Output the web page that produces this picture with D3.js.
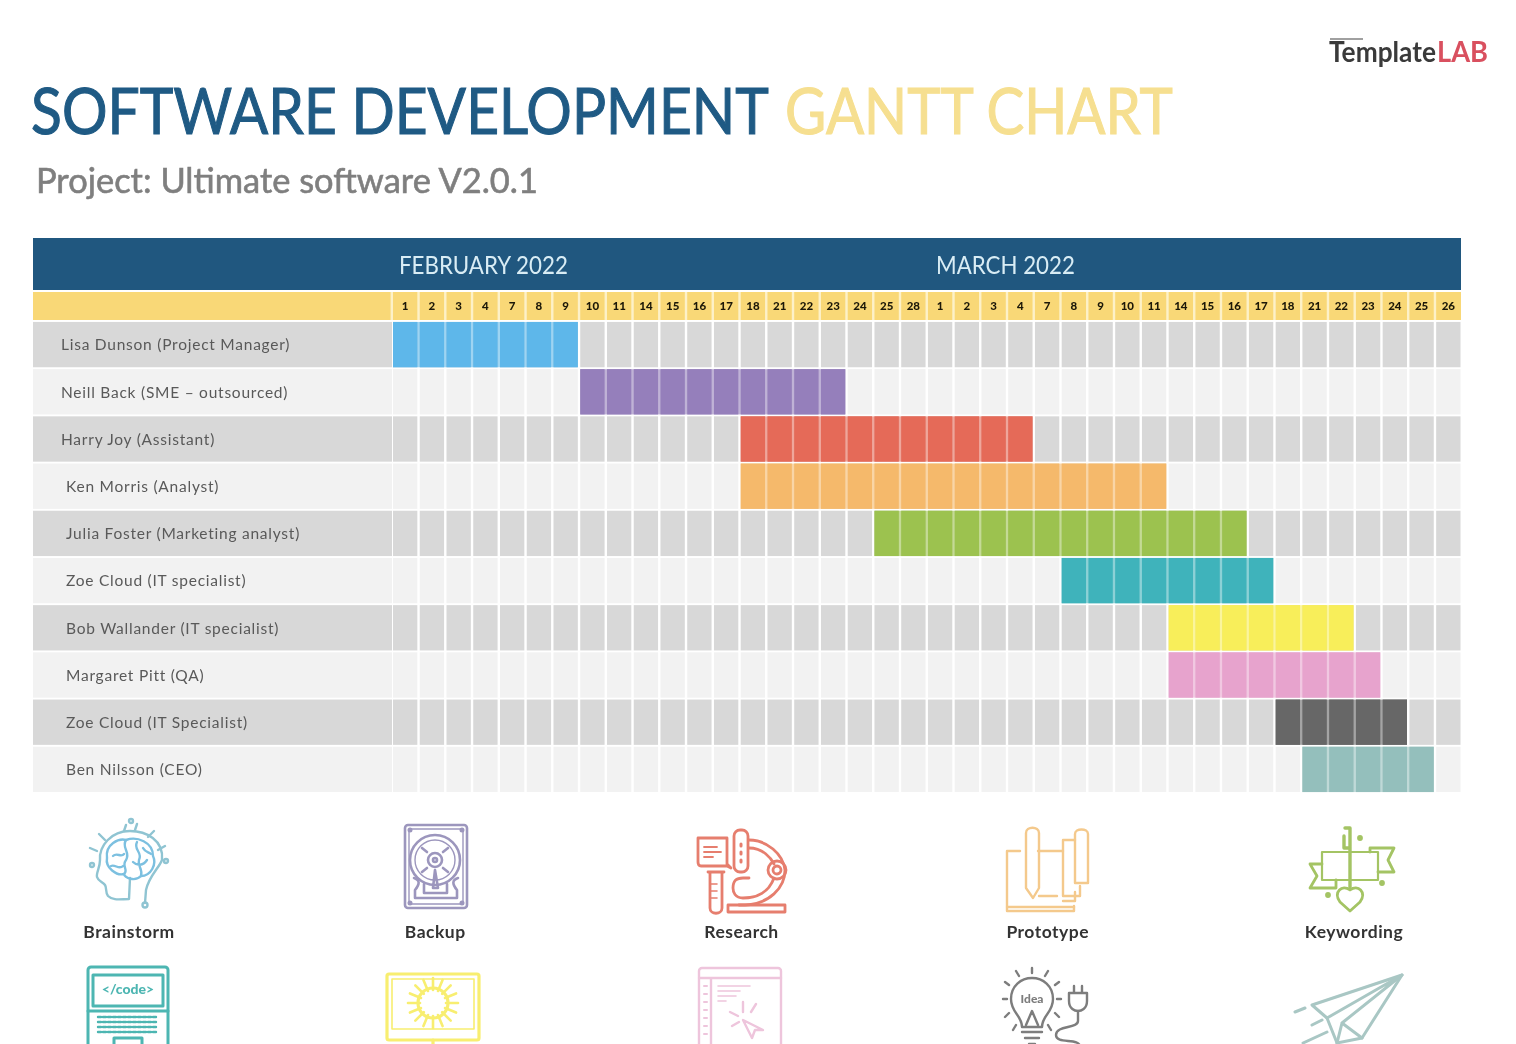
<!DOCTYPE html>
<html>
<head>
<meta charset="utf-8">
<title>Software Development Gantt Chart</title>
<script src="https://cdnjs.cloudflare.com/ajax/libs/d3/7.8.5/d3.min.js"></script>
<style>
    html, body { margin: 0; padding: 0; background: #fff; overflow: hidden; }
    svg { display: block; filter: blur(0.55px); }
    text { font-family: Lato, "Open Sans", sans-serif; }
    .domain { display: none; }
    .icon path, .icon line, .icon rect, .icon circle, .icon ellipse { fill: none; stroke-linecap: round; stroke-linejoin: round; }
</style>
</head>
<body>
<svg id="chart"></svg>
<script>
// Data
// --------------------------------------------------------
    const febDays = ['1','2','3','4','7','8','9','10','11','14','15','16','17','18','21','22','23','24','25','28'];
    const marDays = ['1','2','3','4','7','8','9','10','11','14','15','16','17','18','21','22','23','24','25','26'];
    const months = ['FEBRUARY 2022', 'MARCH 2022'];

    const people = [
        'Lisa Dunson (Project Manager)',
        'Neill Back (SME – outsourced)',
        'Harry Joy (Assistant)',
        'Ken Morris (Analyst)',
        'Julia Foster (Marketing analyst)',
        'Zoe Cloud (IT specialist)',
        'Bob Wallander (IT specialist)',
        'Margaret Pitt (QA)',
        'Zoe Cloud (IT Specialist)',
        'Ben Nilsson (CEO)'
    ];
    // first and last working day column of each person, counted from 1 Feb
    const startColumn = [0, 7, 13, 13, 18, 25, 29, 29, 33, 34];
    const endColumn = [6, 16, 23, 28, 31, 32, 35, 36, 37, 38];

    const topLegend = ['Brainstorm', 'Backup', 'Research', 'Prototype', 'Keywording'];

    const barColors = ['#5eb7ea', '#957fbb', '#e56a58', '#f5b96b', '#9cc24f', '#3fb3bb', '#f8ee5a', '#e7a3cd', '#676767', '#94bfbc'];

// 1. Set up an SVG canvas

    const width = 1516;
    const height = 1044;
    const left = 33;
    const right = 1461;
    const gridLeft = 393;

    const svg = d3.select('#chart')
        .attr('width', width)
        .attr('height', height);

    // squeeze a text sideways to the width it has in the picture
    function fitText(sel, x, y, targetWidth) {
        const natural = sel.node().getComputedTextLength();
        sel.attr('transform', `translate(${x},${y}) scale(${targetWidth / natural},1)`);
        return sel;
    }

// 2. Set scales

    const dayLabels = febDays.concat(marDays);
    const columns = d3.range(dayLabels.length);

    const xScale = d3.scaleBand()
        .domain(columns)
        .range([gridLeft, right - 0.5])
        .paddingInner(0.09)
        .paddingOuter(0);

    const yScale = d3.scaleBand()
        .domain(d3.range(people.length))
        .range([321, 793])
        .paddingInner(0.04)
        .paddingOuter(0.02);

    const legendScale = d3.scalePoint()
        .domain(topLegend)
        .range([129, 1354]);

// 3. Title block

    fitText(svg.append('text')
        .attr('font-size', 64.5)
        .attr('fill', '#1f5a84')
        .attr('stroke', '#1f5a84')
        .attr('stroke-width', 1.1)
        .text('SOFTWARE DEVELOPMENT'), 31, 134, 738);

    fitText(svg.append('text')
        .attr('font-size', 64.5)
        .attr('fill', '#f6df90')
        .attr('stroke', '#f6df90')
        .attr('stroke-width', 1.1)
        .text('GANTT CHART'), 785, 134, 388);

    fitText(svg.append('text')
        .attr('font-size', 35)
        .attr('fill', '#7f7f7f')
        .attr('stroke', '#7f7f7f')
        .attr('stroke-width', 0.6)
        .text('Project: Ultimate software V2.0.1'), 36, 193, 502);

    // logo
    fitText(svg.append('text')
        .attr('font-size', 28)
        .attr('font-weight', 700)
        .attr('fill', '#3a3a3a')
        .text('Template'), 1329, 62, 107);
    fitText(svg.append('text')
        .attr('font-size', 28)
        .attr('font-weight', 700)
        .attr('fill', '#d9505f')
        .text('LAB'), 1437, 62, 51);
    svg.append('rect').attr('x', 1330).attr('y', 38).attr('width', 33).attr('height', 2).attr('fill', '#a0a0a0');

// 4. Header bands

    svg.append('rect')
        .attr('x', left).attr('y', 238)
        .attr('width', right - left).attr('height', 52)
        .attr('fill', '#20577f');

    const monthWidths = [169, 139];
    svg.selectAll('.month')
        .data(months)
        .enter()
        .append('text')
            .attr('class', 'month')
            .attr('font-size', 25)
            .attr('fill', '#d9edf5')
            .text(d => d)
            .each(function(d, i) {
                fitText(d3.select(this), xScale(i * febDays.length) + (i ? 8 : 6), 274, monthWidths[i]);
            });

    svg.append('rect')
        .attr('x', left).attr('y', 292)
        .attr('width', right - left).attr('height', 28)
        .attr('fill', '#f9d877');

    svg.selectAll('.day-gap')
        .data(columns)
        .enter()
        .append('rect')
            .attr('class', 'day-gap')
            .attr('x', d => xScale(d) - xScale.step() * xScale.paddingInner())
            .attr('y', 292)
            .attr('width', xScale.step() * xScale.paddingInner())
            .attr('height', 28)
            .attr('fill', '#fdf1c8');

    svg.append('g')
        .attr('class', 'day-axis')
        .attr('transform', 'translate(0,310)')
        .call(d3.axisTop(xScale).tickSize(0).tickPadding(0).tickFormat(i => dayLabels[i]))
        .selectAll('text')
            .attr('dy', 0)
            .attr('y', 0)
            .attr('font-size', 11.5)
            .attr('font-weight', 900)
            .attr('font-family', 'Lato')
            .attr('fill', '#1c1808');

// 5. Rows and day cells

    const rows = svg.selectAll('.row')
        .data(people)
        .enter()
        .append('g')
            .attr('class', 'row');

    rows.append('rect')
        .attr('x', left)
        .attr('y', (d, i) => yScale(i))
        .attr('width', gridLeft - left - 1)
        .attr('height', yScale.bandwidth())
        .attr('fill', (d, i) => i % 2 ? '#f2f2f2' : '#d8d8d8');

    rows.each(function(d, i) {
        d3.select(this).selectAll('.cell')
            .data(columns)
            .enter()
            .append('rect')
                .attr('class', 'cell')
                .attr('x', c => xScale(c))
                .attr('y', yScale(i))
                .attr('width', xScale.bandwidth())
                .attr('height', yScale.bandwidth())
                .attr('fill', i % 2 ? '#f2f2f2' : '#d8d8d8');
    });

// 6. Gantt bars: a paler strip under the day cells keeps the seams visible

    svg.selectAll('.bar')
        .data(people)
        .enter()
        .append('rect')
            .attr('class', 'bar')
            .attr('x', (d, i) => xScale(startColumn[i]))
            .attr('y', (d, i) => yScale(i))
            .attr('width', (d, i) => xScale(endColumn[i]) + xScale.bandwidth() - xScale(startColumn[i]))
            .attr('height', yScale.bandwidth())
            .attr('fill', (d, i) => barColors[i])
            .attr('opacity', 0.6);

    people.forEach((p, i) => {
        svg.selectAll('.bar-cell-' + i)
            .data(d3.range(startColumn[i], endColumn[i] + 1))
            .enter()
            .append('rect')
                .attr('class', 'bar-cell-' + i)
                .attr('x', c => xScale(c))
                .attr('y', yScale(i))
                .attr('width', xScale.bandwidth())
                .attr('height', yScale.bandwidth())
                .attr('fill', barColors[i]);
    });

// 7. Names

    svg.append('g')
        .attr('class', 'name-axis')
        .attr('transform', 'translate(0,0.8)')
        .call(d3.axisLeft(yScale).tickSize(0).tickFormat(i => people[i]))
        .selectAll('text')
            .attr('x', i => i < 3 ? 61 : 66)
            .attr('text-anchor', 'start')
            .attr('font-size', 15.5)
            .attr('letter-spacing', 0.76)
            .attr('font-family', 'Lato')
            .attr('fill', '#595959');

// 8. Icon legend

    svg.selectAll('.legend-label')
        .data(topLegend)
        .enter()
        .append('text')
            .attr('class', 'legend-label')
            .attr('x', d => legendScale(d))
            .attr('y', 938)
            .attr('text-anchor', 'middle')
            .attr('font-size', 17.5)
            .attr('letter-spacing', 0.5)
            .attr('font-weight', 700)
            .attr('fill', '#333')
            .text(d => d);

    // icon drawn around its own centre
    function icon(x, y, color, strokeWidth, draw) {
        const g = svg.append('g')
            .attr('class', 'icon')
            .attr('transform', `translate(${x},${y})`)
            .attr('stroke', color)
            .attr('stroke-width', strokeWidth);
        draw({
            p: d => g.append('path').attr('d', d),
            c: (cx, cy, r) => g.append('circle').attr('cx', cx).attr('cy', cy).attr('r', r),
            r: (rx, ry, w, h, rr) => g.append('rect').attr('x', rx).attr('y', ry).attr('width', w).attr('height', h).attr('rx', rr || 0),
            t: (tx, ty, s, txt) => g.append('text').attr('x', tx).attr('y', ty).attr('font-size', s).attr('text-anchor', 'middle').attr('font-weight', 900).attr('fill', color).attr('stroke', 'none').text(txt)
        });
        return g;
    }

    // brainstorm
    icon(129, 868, '#8fc4d2', 2.4, s => {
        s.p('M16,35 L17,22 C20,8 30,0 33,-8 C35,-28 17,-37 1,-37 C-18,-37 -30,-22 -29,-8 C-29,0 -33,5 -32,9 C-31,13 -26,14 -24,17 C-22,20 -24,24 -21,28 C-16,33 -8,31 0,31 L1,10');
        s.p('M-22,-10 C-24,-24 -10,-30 -3,-28 C8,-32 24,-26 24,-12 C28,-4 22,8 12,8 C6,14 -4,10 -5,6 C-12,8 -24,0 -22,-10 Z').attr('stroke', '#7cc0e0');
        s.p('M-3,-28 C-8,-20 2,-16 -3,-8 C-8,-2 0,2 -5,6 M8,-26 C4,-18 14,-16 10,-8 C8,-2 14,0 12,8 M-16,-12 C-12,-16 -8,-10 -5,-14 M-18,-2 C-14,-4 -10,2 -6,-2 M4,-6 C8,-2 14,-2 18,-8 M14,-20 C16,-16 20,-16 22,-14').attr('stroke', '#7cc0e0');
        s.p('M-3,-43 L-5,-37 M8,-44 L6,-38 M25,-37 L19,-31 M36,-22 L29,-18 M-30,-34 L-24,-28 M-39,-20 L-32,-17');
        s.c(2, -47, 2).attr('fill', '#8fc4d2');
        s.c(-37, -3, 2).attr('fill', '#8fc4d2');
        s.c(37, -7, 2).attr('fill', '#8fc4d2');
        s.c(16, 37, 2.5).attr('fill', '#8fc4d2');
    });

    // backup
    icon(436, 866, '#9c96bd', 2.6, s => {
        s.r(-31, -41, 62, 83, 3);
        s.r(-27, -37, 54, 75, 2).attr('stroke-width', 1.4);
        s.c(-1, -6, 25);
        s.c(-1, -6, 20).attr('stroke-width', 1.4);
        s.c(-1, -6, 7);
        s.c(-1, -6, 2);
        s.p('M-14,-18 L-9,-14 M12,-18 L7,-14 M-14,6 L-9,2 M12,6 L7,2');
        s.p('M-22,12 C-16,14 -16,18 -21,24 L-21,32 L21,32 L21,24 C16,18 16,14 22,12');
        s.p('M-12,18 L-12,27 L11,27 L11,18 M-3,22 L-1,4 L2,22 Z');
        s.c(-26, -36, 1.2); s.c(26, -36, 1.2); s.c(-26, 37, 1.2); s.c(26, 37, 1.2);
    });

    // research
    icon(741, 870, '#e67e6e', 2.8, s => {
        s.p('M-43,-32 L-14,-32 L-14,-6 L-10,-2 L-14,-4 L-40,-4 C-43,-4 -43,-6 -43,-8 Z');
        s.p('M-37,-23 L-24,-23 M-37,-18 L-20,-18 M-37,-13 L-28,-13').attr('stroke-width', 1.8);
        s.r(-7, -40, 14, 42, 6);
        s.p('M0,-26 L0,-24 M0,-18 L0,-16 M0,-10 L0,-8').attr('stroke-width', 3);
        s.p('M8,-30 C26,-30 42,-16 44,0 C44,18 28,34 4,35 L-2,35');
        s.p('M8,-22 C22,-22 30,-12 33,-6 M33,8 C28,22 16,28 2,28 C-6,28 -8,22 -8,18 C-8,10 -4,8 2,8 L8,8');
        s.c(36, 0, 9);
        s.c(36, 0, 4);
        s.p('M-31,2 L-31,38 C-31,45 -19,45 -19,38 L-19,2 M-33,2 L-17,2');
        s.p('M-31,14 L-24,14 M-31,21 L-24,21 M-31,28 L-24,28').attr('stroke-width', 1.6);
        s.r(-13, 35, 57, 7).attr('fill', '#f4b6ab');
    });

    // prototype
    icon(1047, 868, '#f4c98c', 2.4, s => {
        s.p('M-27,-17 L-40,-17 L-40,43 L27,43 L27,38');
        s.p('M-9,-17 L16,-17 M-40,39 L27,39');
        s.p('M-21,-35 C-21,-42 -8,-42 -8,-35 L-8,20 L-14,30 L-21,20 Z').attr('fill', '#f5c27c');
        s.p('M-8,28 L10,28');
        s.p('M16,-28 L28,-28 M16,-28 L16,28 L33,28 L33,18');
        s.p('M28,-34 C28,-40 41,-40 41,-34 L41,15 L28,15 Z');
        s.p('M16,33 L28,33 L28,24');
    });

    // keywording
    icon(1350, 868, '#a4c464', 2.8, s => {
        s.p('M0,-40 L0,20 M-6,-32 L-6,-20 L0,-20 M-5,-40 L0,-40').attr('stroke-width', 3.4);
        s.p('M-28,-16 L28,-16 L28,12 L-28,12 Z').attr('stroke-width', 2.2);
        s.p('M-28,-4 L-40,-4 L-33,8 L-40,20 L-14,20 L-14,12');
        s.p('M28,4 L44,4 L38,-8 L44,-20 L20,-20 L20,-16');
        s.p('M0,22 C-8,16 -17,24 -10,34 L0,43 L10,34 C17,24 8,16 0,22 Z').attr('fill', '#b9d382');
        s.c(10, -30, 1.5); s.c(-22, 27, 1.5); s.c(32, 15, 1.5);
    });

    // row cut by the bottom edge of the page
    icon(128, 1006, '#4db6b2', 3, s => {
        s.r(-40, -39, 80, 80, 3);
        s.p('M-35,-31 L35,-31 L35,0 L-35,0 Z M-40,5 L40,5');
        s.t(0, -12, 14, '</code>');
        s.p('M-30,11 L30,11 M-30,16 L30,16 M-30,21 L30,21 M-30,26 L30,26').attr('stroke-dasharray', '3 2').attr('stroke-width', 2.4);
        s.r(-14, 32, 28, 14);
    });

    icon(433, 1006, '#f8ee70', 3.2, s => {
        s.r(-46, -32, 92, 66, 2);
        s.r(-41, -27, 82, 50).attr('stroke-width', 1.6);
        s.c(0, -3, 15).attr('fill', '#f8ee70');
        d3.range(16).forEach(k => {
            const a = k * Math.PI / 8;
            s.p(`M${13 * Math.cos(a)},${-3 + 13 * Math.sin(a)} L${25 * Math.cos(a)},${-3 + 25 * Math.sin(a)}`).attr('stroke-width', 2.6);
        });
        s.p('M0,34 L0,40 M-10,40 L10,40');
    });

    icon(740, 1006, '#eec5dc', 2.4, s => {
        s.r(-41, -38, 82, 90, 3);
        s.p('M-41,-28 L41,-28 M-29,-28 L-29,50');
        s.p('M-36,-20 L-33,-20 M-36,-12 L-33,-12 M-36,-4 L-33,-4 M-36,4 L-33,4 M-36,12 L-33,12 M-36,20 L-33,20 M-36,28 L-33,28').attr('stroke-width', 2);
        s.p('M-22,-20 L10,-20 M-22,-15 L0,-15 M-22,-10 L-4,-10 M-22,-5 L-14,-5').attr('stroke-width', 1.6);
        s.p('M3,-4 L3,6 M16,-2 L11,6 M-10,6 L-2,10 M-8,20 L-1,16 M3,14 L12,32 L15,24 L23,24 Z');
    });

    icon(1032, 1003, '#7d7d7d', 2.4, s => {
        s.p('M-10,24 C-10,12 -21,10 -21,-4 C-21,-17 -11,-25 0,-25 C11,-25 21,-17 21,-4 C21,10 10,12 10,24 Z');
        s.t(0, 0, 12, 'Idea');
        s.p('M-6,22 L0,8 L6,22 M-10,29 L10,29 M-7,35 L7,35 M-3,41 L3,41');
        s.p('M0,-35 L0,-30 M-16,-32 L-13,-27 M16,-32 L13,-27 M-27,-21 L-23,-18 M27,-21 L23,-18 M-29,-4 L-25,-4 M29,-4 L25,-4 M-27,14 L-23,10 M27,14 L23,10 M-19,27 L-16,22 M19,27 L16,22');
        s.p('M42,-17 L42,-10 M50,-17 L50,-10 M37,-10 L55,-10 L55,-2 C55,6 49,8 46,8 C43,8 37,6 37,-2 Z').attr('fill', '#7d7d7d');
        s.p('M46,8 L46,18 C46,26 24,22 24,32 C24,42 48,34 48,44');
    });

    icon(1350, 1010, '#a9c7c4', 3, s => {
        s.p('M52,-35 L-38,-5 L-23,8 L-13,33 L12,28 Z');
        s.p('M52,-35 L-23,8 M52,-35 L-8,13 L12,28 M-8,13 L-13,33');
        s.p('M-55,2 L-45,-2 M-38,15 L-28,10 M-47,33 L-23,22');
    });
</script>
</body>
</html>
